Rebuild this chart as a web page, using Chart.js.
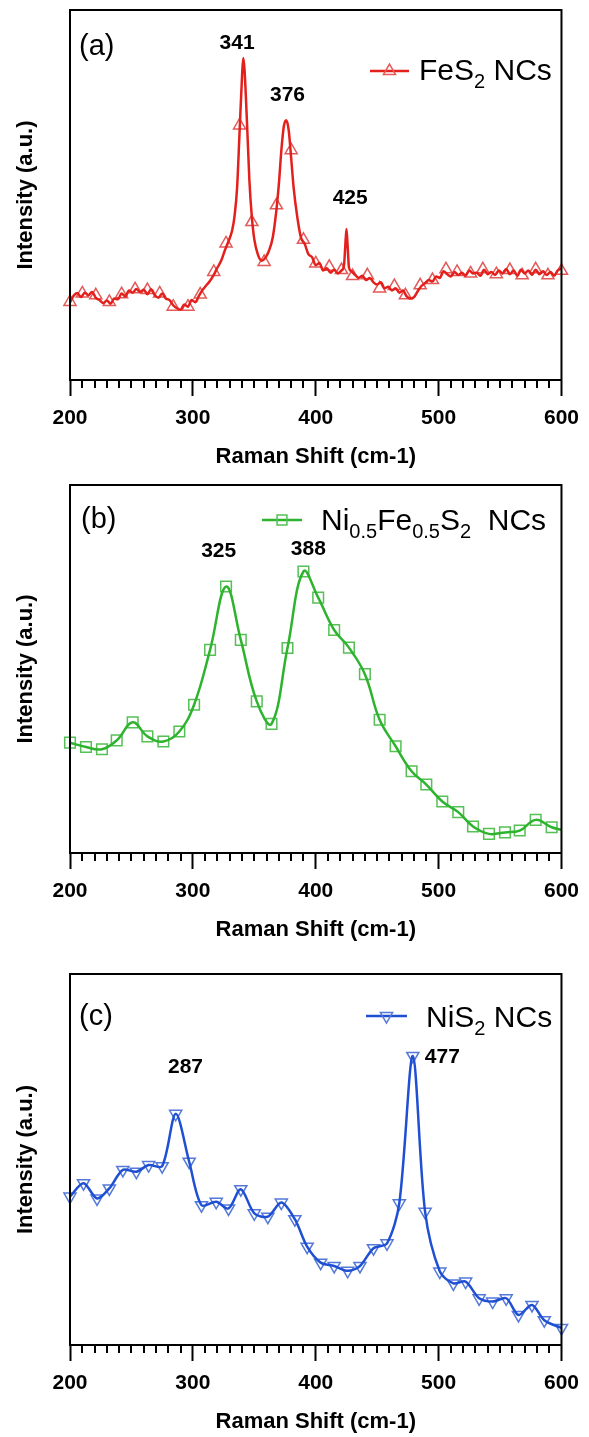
<!DOCTYPE html>
<html>
<head>
<meta charset="utf-8">
<title>Raman spectra</title>
<script src="https://cdn.jsdelivr.net/npm/chart.js@4.4.0/dist/chart.umd.min.js"></script>
<style>
  html, body { margin: 0; padding: 0; background: #fff; }
  body { width: 589px; height: 1437px; position: relative; overflow: hidden; }
  .panel { position: absolute; left: 0; width: 589px; }
</style>
</head>
<body>
<div class="panel" style="top:0;height:474px"><canvas id="chartA"></canvas></div>
<div class="panel" style="top:474px;height:488px"><canvas id="chartB"></canvas></div>
<div class="panel" style="top:962px;height:475px"><canvas id="chartC"></canvas></div>
<script>
// ---- data (intensity in arbitrary units, 0-100 of the frame height) ----

// (a) FeS2 NCs - measured trace
const xA = [200,203,206,209,212,215,218,221,224,227,230,233,236,239,242,245,248,251,254,257,260,263,266,269,272,275,278,281,284,287,290,293,296,299,302,305,308,311,314,317,320,323,326,329,332,334,336,338,340,341,342,344,346,348,350,353,356,359,362,365,368,370,372,374,376,378,380,382,385,388,391,394,397,400,403,406,409,412,415,418,421,423,424,425,426,427,429,432,435,438,441,444,447,450,453,456,459,462,465,468,471,474,477,480,483,486,489,492,495,498,501,504,507,510,513,516,519,522,525,528,531,534,537,540,543,546,549,552,555,558,561,564,567,570,573,576,579,582,585,588,591,594,597,600];
const yA = [21.0,22.8,23.5,22.4,23.6,22.9,23.8,22.2,21.6,20.8,21.5,20.6,22.0,21.8,23.4,22.6,24.2,23.6,24.6,23.8,24.4,23.2,24.5,23.0,22.2,23.4,22.0,21.6,20.2,19.4,19.0,20.4,19.8,21.6,21.0,22.8,24.4,25.6,26.8,28.4,30.4,32.2,35.0,37.5,40.5,44.5,52.0,67.0,82.0,87.0,84.0,70.0,54.0,44.0,38.0,33.8,32.2,33.0,35.0,38.5,46.0,53.0,62.0,68.5,70.2,67.5,60.0,52.0,44.0,38.5,36.8,34.0,33.2,31.0,31.6,29.6,30.2,29.0,29.8,28.8,29.6,31.0,36.0,40.8,36.0,30.5,29.4,28.4,27.6,28.2,27.0,27.6,26.4,25.8,26.4,24.8,25.2,24.2,24.8,23.6,24.2,22.6,22.0,22.4,24.0,25.4,26.2,27.0,26.6,28.0,27.6,29.4,28.6,28.0,29.2,28.4,29.0,28.2,29.6,28.8,29.0,28.2,29.8,28.6,29.2,28.4,29.6,28.8,30.0,28.6,29.6,28.2,29.8,28.8,29.6,28.4,29.8,28.6,29.4,28.4,29.2,28.2,29.6,30.2];
// (a) symbol positions
const markXA = [200,210,221,232,242,253,263,273,284,296,306,317,327,338,348,358,368,380,390,400,411,421,430,442,452,464,473,485,495,506,515,526,536,547,558,568,579,589,600];
const markYA = [21.1,23.4,22.9,21.1,23.2,24.5,24.3,23.4,19.8,19.8,23.1,29.2,36.9,68.8,42.7,31.9,47.2,62.1,37.9,31.5,30.6,29.7,28.1,28.3,24.7,25.4,22.9,25.6,27.0,29.9,29.2,28.8,29.9,28.6,29.7,28.3,29.9,28.3,29.5];

// (b) Ni0.5Fe0.5S2 NCs
const xB = [200,213,226,238,251,263,276,289,301,314,327,339,352,364,377,390,402,415,427,440,452,465,478,490,503,516,528,541,554,566,579,592,600];
const yB = [30.0,28.8,28.2,30.6,35.5,31.7,30.3,33.0,40.3,55.2,72.4,57.9,41.2,35.1,55.7,76.5,69.4,60.6,55.8,48.6,36.2,29.0,22.2,18.6,14.0,11.1,7.2,5.2,5.6,6.1,9.0,7.0,6.3];

// (c) NiS2 NCs
const xC = [200,211,222,232,243,254,264,275,286,297,307,319,329,339,350,361,372,383,393,404,415,426,436,447,458,468,479,489,501,512,522,533,544,555,565,576,586,600];
const yC = [40.0,43.6,39.5,42.2,47.2,46.7,48.5,48.2,62.3,49.4,37.7,38.6,36.8,42.0,35.5,34.6,38.4,33.9,26.5,22.2,21.3,20.0,21.3,26.1,27.4,38.2,77.9,35.9,19.8,16.6,17.1,12.6,11.7,12.6,8.1,10.8,6.7,4.6];

// peak annotations
const peakTextA = ['341', '376', '425'];
const peakXA = [336, 377, 428];
const peakYA = [91, 77, 49];
const peakTextB = ['325', '388'];
const peakXB = [321, 394];
const peakYB = [82, 82.6];
const peakTextC = ['287', '477'];
const peakXC = [294, 503];
const peakYC = [75, 77.6];

const FONT = "'Liberation Sans', Arial, Helvetica, sans-serif";
const FRAME_LEFT = 70, FRAME_RIGHT = 565;

function pts(xs, ys) {
  return xs.map((x, i) => ({ x: x, y: ys[i] }));
}

// frame, minor ticks, panel letter, peak labels and legend
const decoPlugin = {
  id: 'deco',
  afterDatasetsDraw(chart, args, o) {
    const ctx = chart.ctx;
    const a = chart.chartArea;
    const sx = chart.scales.x, sy = chart.scales.y;
    ctx.save();
    ctx.strokeStyle = '#000';
    ctx.lineWidth = 2;
    ctx.strokeRect(a.left, a.top, a.right - a.left, a.bottom - a.top);

    for (let v = 210; v < 600; v += 10) {
      if (v % 100 === 0) continue;
      const px = Math.round(sx.getPixelForValue(v));
      ctx.beginPath();
      ctx.moveTo(px, a.bottom);
      ctx.lineTo(px, a.bottom + 8);
      ctx.stroke();
    }

    ctx.fillStyle = '#000';
    ctx.textAlign = 'left';
    ctx.textBaseline = 'middle';
    ctx.font = '29px ' + FONT;
    ctx.fillText(o.tag, o.tagX, o.tagY);

    ctx.textAlign = 'center';
    ctx.font = 'bold 21px ' + FONT;
    o.peakText.forEach((t, i) => {
      ctx.fillText(t, sx.getPixelForValue(o.peakX[i]), sy.getPixelForValue(o.peakY[i]));
    });

    // legend
    const lg = o.legend;
    ctx.strokeStyle = o.color;
    ctx.lineWidth = 2.5;
    ctx.beginPath();
    ctx.moveTo(lg.x0, lg.lineY);
    ctx.lineTo(lg.x1, lg.lineY);
    ctx.stroke();
    ctx.strokeStyle = o.markColor;
    ctx.fillStyle = 'rgba(0,0,0,0)';
    ctx.lineWidth = 1.5;
    Chart.helpers.drawPoint(ctx, { pointStyle: o.pointStyle, rotation: o.rotation, radius: 7, borderWidth: 1.5 }, (lg.x0 + lg.x1) / 2, lg.lineY);

    ctx.fillStyle = '#000';
    ctx.textAlign = 'left';
    ctx.textBaseline = 'alphabetic';
    let x = lg.textX;
    lg.parts.forEach(p => {
      ctx.font = (p[1] ? '20px ' : '30px ') + FONT;
      ctx.fillText(p[0], x, p[1] ? lg.base + 8 : lg.base);
      x += ctx.measureText(p[0]).width;
    });
    ctx.restore();
  }
};

function makePanel(id, cfg) {
  const chart = new Chart(document.getElementById(id), {
    type: 'line',
    data: {
      datasets: [
        {
          data: pts(cfg.lineX, cfg.lineY),
          borderColor: cfg.color,
          borderWidth: 2.5,
          pointRadius: 0,
          tension: cfg.tension,
          cubicInterpolationMode: cfg.mode,
          fill: false
        },
        {
          data: pts(cfg.markX, cfg.markY),
          showLine: false,
          pointStyle: cfg.pointStyle,
          rotation: cfg.rotation,
          pointRadius: cfg.radius,
          pointBorderColor: cfg.markColor,
          pointBackgroundColor: 'rgba(0,0,0,0)',
          pointBorderWidth: 1.5,
          clip: false
        }
      ]
    },
    options: {
      responsive: true,
      maintainAspectRatio: false,
      animation: false,
      devicePixelRatio: 1,
      layout: { padding: { top: cfg.padTop, right: 589 - FRAME_RIGHT, bottom: cfg.padBottom, left: 0 } },
      plugins: {
        legend: { display: false },
        tooltip: { enabled: false },
        deco: cfg.deco
      },
      scales: {
        x: {
          type: 'linear',
          min: 200,
          max: 600,
          ticks: { stepSize: 100, padding: 10, color: '#000', maxRotation: 0,
                   font: { family: FONT, size: 21, weight: 'bold' } },
          grid: { drawOnChartArea: false, drawTicks: true, tickLength: 16, tickWidth: 2, tickColor: '#000' },
          border: { display: true, color: '#000', width: 2 },
          title: { display: true, text: 'Raman Shift (cm-1)', color: '#000',
                   font: { family: FONT, size: 22, weight: 'bold' }, padding: { top: 0, bottom: 2 } },
          afterFit: s => { s.height = 92; }
        },
        y: {
          min: 0,
          max: 100,
          ticks: { display: false },
          grid: { display: false, drawTicks: false },
          border: { display: true, color: '#000', width: 2 },
          title: { display: true, text: 'Intensity (a.u.)', color: '#000',
                   font: { family: FONT, size: 22, weight: 'bold' }, padding: { top: 13, bottom: 0 } },
          afterFit: s => { s.width = FRAME_LEFT; }
        }
      }
    },
    plugins: [decoPlugin]
  });
  // keep the frame's right edge where the reference has it
  const diff = chart.chartArea.right - FRAME_RIGHT;
  if (Math.abs(diff) > 0.5) {
    chart.options.layout.padding.right += diff;
    chart.update();
  }
  return chart;
}

makePanel('chartA', {
  lineX: xA, lineY: yA, markX: markXA, markY: markYA,
  color: '#e3201c', markColor: '#e35a5a', pointStyle: 'triangle', rotation: 0, radius: 7,
  tension: 0, mode: 'monotone', padTop: 10, padBottom: 2,
  deco: {
    tag: '(a)', tagX: 79, tagY: 47,
    peakText: peakTextA, peakX: peakXA, peakY: peakYA,
    color: '#e3201c', markColor: '#e35a5a', pointStyle: 'triangle', rotation: 0,
    legend: { x0: 370, x1: 409, lineY: 71, textX: 419, base: 80,
              parts: [['FeS', 0], ['2', 1], [' NCs', 0]] }
  }
});

makePanel('chartB', {
  lineX: xB, lineY: yB, markX: xB.slice(0, -1), markY: yB.slice(0, -1),
  color: '#2db32d', markColor: '#55c055', pointStyle: 'rect', rotation: 0, radius: 7.5,
  tension: 0.4, mode: 'default', padTop: 11, padBottom: 17,
  deco: {
    tag: '(b)', tagX: 81, tagY: 46,
    peakText: peakTextB, peakX: peakXB, peakY: peakYB,
    color: '#2db32d', markColor: '#55c055', pointStyle: 'rect', rotation: 0,
    legend: { x0: 262, x1: 302, lineY: 46, textX: 321, base: 56,
              parts: [['Ni', 0], ['0.5', 1], ['Fe', 0], ['0.5', 1], ['S', 0], ['2', 1], ['  NCs', 0]] }
  }
});

makePanel('chartC', {
  lineX: xC, lineY: yC, markX: xC, markY: yC,
  color: '#1f4fd2', markColor: '#5479d8', pointStyle: 'triangle', rotation: 180, radius: 7,
  tension: 0.3, mode: 'default', padTop: 12, padBottom: 0,
  deco: {
    tag: '(c)', tagX: 79, tagY: 55,
    peakText: peakTextC, peakX: peakXC, peakY: peakYC,
    color: '#1f4fd2', markColor: '#5479d8', pointStyle: 'triangle', rotation: 180,
    legend: { x0: 366, x1: 407, lineY: 54, textX: 426, base: 65,
              parts: [['NiS', 0], ['2', 1], [' NCs', 0]] }
  }
});
</script>
</body>
</html>
